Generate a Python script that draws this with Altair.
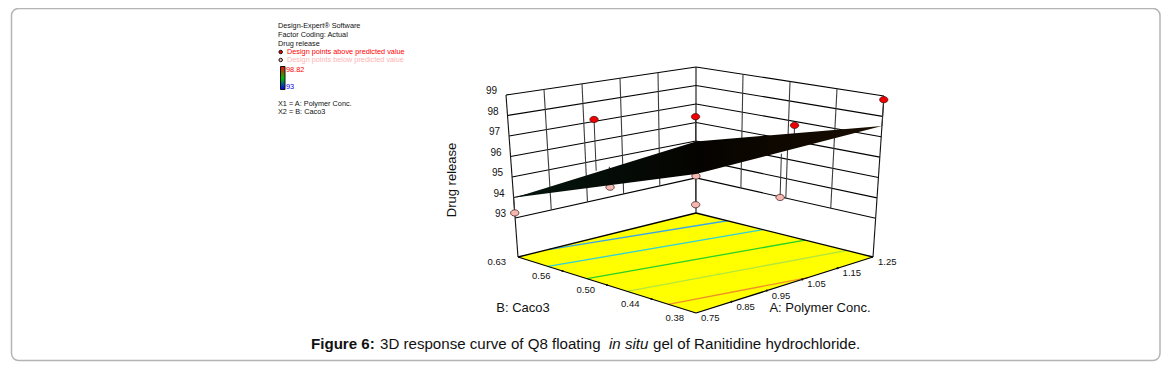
import altair as alt
import pandas as pd

# ---------- values ----------
A_TICKS = [0.75, 0.85, 0.95, 1.05, 1.15, 1.25]
A_LABELS = ["0.75", "0.85", "0.95", "1.05", "1.15", "1.25"]
B_TICKS = [0.625, 0.5625, 0.5, 0.4375, 0.375]
B_LABELS = ["0.63", "0.56", "0.50", "0.44", "0.38"]
Z_TICKS = [93, 94, 95, 96, 97, 98, 99]
Z_FLOOR = 91.1

# design points
PT_A = [0.75, 1.0135, 1.25, 1.0, 0.98, 0.9775, 1.0, 1.25, 1.25]
PT_B = [0.625, 0.625, 0.625, 0.5, 0.375, 0.625, 0.5, 0.49175, 0.375]
PT_Z = [93.25, 93.5, 93.1, 93.8, 95.27, 97.1, 98.1, 96.8, 98.82]
PT_PRED = [94.07, 94.55, 94.97, 95.84, 97.3, 94.48, 95.84, 96.33, 97.53]
PT_KIND = ["below"] * 5 + ["above"] * 4

# response surface corners (A, B, Z)
SURF_Z = {"left": 94.0, "back": 94.97, "front": 97.27, "right": 97.53}

# contours on the floor
C_A1 = [0.835, 0.75, 0.75, 0.75, 0.75]
C_B1 = [0.625, 0.583, 0.528, 0.472, 0.414]
C_A2 = [1.25, 1.25, 1.25, 1.25, 1.0665]
C_B2 = [0.581, 0.5305, 0.471, 0.412, 0.375]
C_COL = ["#3aa6e8", "#30d0d8", "#28d028", "#b4e63c", "#f09028"]

# page texts
LEGEND_TXT = ["Design-Expert® Software", "Factor Coding: Actual", "Drug release",
              "Design points above predicted value", "Design points below predicted value",
              "98.82", "93", "X1 = A: Polymer Conc.", "X2 = B: Caco3"]
LEGEND_X = [278, 278, 278, 287, 287, 286, 286, 278, 278]
LEGEND_Y = [26, 35, 43.5, 52, 60, 69.5, 87, 104, 112]
LEGEND_COL = ["#111111"] * 3 + ["#ff0000", "#ffb4b4", "#ff0000", "#0000ff"] + ["#111111"] * 2

CAP_TXT = ["Figure 6:", "3D response curve of Q8 floating", "in situ", "gel of Ranitidine hydrochloride."]
CAP_X = [311, 380, 609, 653]
CAP_WEIGHT = ["bold", "normal", "normal", "normal"]
CAP_STYLE = ["normal", "normal", "italic", "normal"]

# ---------- oblique view of the cube ----------
W, H = 1153, 354


def proj(a, b, z):
    u = (a - 0.75) / 0.5
    v = (0.625 - b) / 0.25
    t = (z - Z_FLOOR) / (99 - Z_FLOOR)
    fx = 518 + 178 * u + 178 * v - 1 * u * v
    fy = 257 - 44 * u + 56 * v - 12 * u * v
    dx = -12 + 12 * u + 12 * v - 1 * u * v
    dy = -162 + 16 * u - 16 * v + 1 * u * v
    return fx + t * dx, fy + t * dy


def seg(a1, b1, z1, a2, b2, z2, i, **kw):
    x1, y1 = proj(a1, b1, z1)
    x2, y2 = proj(a2, b2, z2)
    return dict(x=x1, y=y1, x2=x2, y2=y2, i=i, **kw)


xs = alt.Scale(domain=[8, 8 + W], range=[0, W], nice=False, zero=False)
ys = alt.Scale(domain=[8, 8 + H], range=[0, H], nice=False, zero=False)
X = alt.X("x:Q", scale=xs, axis=None)
Y = alt.Y("y:Q", scale=ys, axis=None)
X2, Y2 = alt.X2("x2"), alt.Y2("y2")


def rules(rows, **mk):
    return alt.Chart(pd.DataFrame(rows)).mark_rule(**mk).encode(x=X, y=Y, x2=X2, y2=Y2)


def texts(rows, **mk):
    return alt.Chart(pd.DataFrame(rows)).mark_text(**mk).encode(x=X, y=Y, text="t:N")


# frame
frame = alt.Chart(pd.DataFrame([dict(x=11.5, x2=1160, y=8.5, y2=360.5)])).mark_rect(
    cornerRadius=7, fill="white", stroke="#b4b4b4", strokeWidth=1.5
).encode(x=X, y=Y, x2=X2, y2=Y2)

# walls
wall = []
for z in Z_TICKS:
    wall.append(seg(0.75, 0.625, z, 1.25, 0.625, z, 0))
    wall.append(seg(1.25, 0.625, z, 1.25, 0.375, z, 0))
vert = []
for a in A_TICKS[1:-1]:
    vert.append(seg(a, 0.625, 93, a, 0.625, 99, 0))
for b in B_TICKS[1:-1]:
    vert.append(seg(1.25, b, 93, 1.25, b, 99, 0))
corner = [seg(0.75, 0.625, Z_FLOOR, 0.75, 0.625, 99, 0),
          seg(1.25, 0.625, Z_FLOOR, 1.25, 0.625, 99, 0),
          seg(1.25, 0.375, Z_FLOOR, 1.25, 0.375, 99, 0)]
wall_l = rules(wall, color="#000000", strokeWidth=1.1)
vert_l = rules(vert, color="#3c3c3c", strokeWidth=1.1)
corner_l = rules(corner, color="#111111", strokeWidth=1.1)

# floor
lx, ly = proj(0.75, 0.625, Z_FLOOR)
bx, by = proj(1.25, 0.625, Z_FLOOR)
fx, fy = proj(0.75, 0.375, Z_FLOOR)
rx, ry = proj(1.25, 0.375, Z_FLOOR)
floor = alt.Chart(pd.DataFrame([
    dict(x=lx, y=ly, y2=ly), dict(x=(bx + fx) / 2, y=by, y2=fy), dict(x=rx, y=ry, y2=ry)
])).mark_area(color="#ffff00", interpolate="linear").encode(x=X, y=Y, y2=Y2)
contours = rules([seg(C_A1[i], C_B1[i], Z_FLOOR, C_A2[i], C_B2[i], Z_FLOOR, i, c=C_COL[i])
                  for i in range(len(C_COL))], strokeWidth=1.3).encode(
    color=alt.Color("c:N", scale=None))
outline = rules([seg(0.75, 0.625, Z_FLOOR, 1.25, 0.625, Z_FLOOR, 0),
                 seg(1.25, 0.625, Z_FLOOR, 1.25, 0.375, Z_FLOOR, 0),
                 seg(0.75, 0.625, Z_FLOOR, 0.75, 0.375, Z_FLOOR, 0),
                 seg(0.75, 0.375, Z_FLOOR, 1.25, 0.375, Z_FLOOR, 0)],
                color="#000000", strokeWidth=1.3)

tk = [dict(zip("xy", proj(a, 0.375, Z_FLOOR))) for a in A_TICKS[1:-1]] + \
     [dict(zip("xy", proj(0.75, b, Z_FLOOR))) for b in B_TICKS[1:-1]]
tick_dots = alt.Chart(pd.DataFrame(tk)).mark_point(
    filled=True, color="#111111", size=5, opacity=1).encode(x=X, y=Y)

# stems and design points
stems = rules([seg(PT_A[i], PT_B[i], PT_Z[i], PT_A[i], PT_B[i], PT_PRED[i], i)
               for i in range(len(PT_Z))], color="#333333", strokeWidth=1)
pts = []
for i in range(len(PT_Z)):
    x, y = proj(PT_A[i], PT_B[i], PT_Z[i])
    pts.append(dict(x=x, y=y, kind=PT_KIND[i]))
ELLIPSE = "M-1,0A1,0.75 0 1,1 1,0A1,0.75 0 1,1 -1,0Z"
points = alt.Chart(pd.DataFrame(pts)).mark_point(
    filled=True, shape=ELLIPSE, size=70, stroke="#3a1010", strokeWidth=0.7, opacity=1
).encode(x=X, y=Y, fill=alt.Fill(
    "kind:N", legend=None,
    scale=alt.Scale(domain=["above", "below"], range=["#f00000", "#f4b8b0"])))

# response surface
sl = proj(0.75, 0.625, SURF_Z["left"])
sb = proj(1.25, 0.625, SURF_Z["back"])
sf = proj(0.75, 0.375, SURF_Z["front"])
sr = proj(1.25, 0.375, SURF_Z["right"])
surface = alt.Chart(pd.DataFrame([
    dict(x=sl[0] + 1.5, y=sl[1], y2=sl[1]),
    dict(x=(sb[0] + sf[0]) / 2, y=sb[1], y2=sf[1]),
    dict(x=sr[0], y=sr[1], y2=sr[1]),
])).mark_area(interpolate="linear", color=alt.Gradient(
    gradient="linear", x1=0, x2=1, y1=0, y2=0,
    stops=[alt.GradientStop(offset=0, color="#04160e"),
           alt.GradientStop(offset=0.5, color="#050300"),
           alt.GradientStop(offset=1, color="#1a0e00")])).encode(x=X, y=Y, y2=Y2)

# tick labels
FONT = "Liberation Sans"
zl = texts([dict(zip("xy", proj(0.75, 0.625, z))) | dict(t=str(z)) for z in Z_TICKS],
           font=FONT, fontSize=10, align="right", baseline="middle", dx=-9, dy=-4, color="#111111")
al = texts([dict(zip("xy", proj(a, 0.375, Z_FLOOR))) | dict(t=l) for a, l in zip(A_TICKS, A_LABELS)],
           font=FONT, fontSize=9.5, align="left", baseline="middle", dx=5, dy=5, color="#111111")
bl = texts([dict(zip("xy", proj(0.75, b, Z_FLOOR))) | dict(t=l) for b, l in zip(B_TICKS, B_LABELS)],
           font=FONT, fontSize=9.5, align="right", baseline="middle", dx=-12, dy=5, color="#111111")

# axis titles
t_a = texts([dict(x=820, y=308, t="A: Polymer Conc.")], font=FONT, fontSize=13, color="#111111", align="center", baseline="middle")
t_b = texts([dict(x=523, y=308, t="B: Caco3")], font=FONT, fontSize=13, color="#111111", align="center", baseline="middle")
t_z = texts([dict(x=452, y=180, t="Drug release")], font=FONT, fontSize=13, angle=270, color="#111111", align="center", baseline="middle")

# legend block
leg = alt.Chart(pd.DataFrame(dict(x=LEGEND_X, y=LEGEND_Y, t=LEGEND_TXT, c=LEGEND_COL))).mark_text(
    font=FONT, fontSize=7.3, align="left", baseline="middle"
).encode(x=X, y=Y, text="t:N", color=alt.Color("c:N", scale=None))
leg_pts = alt.Chart(pd.DataFrame(dict(x=[280.7, 280.7], y=[52, 60], kind=["above", "below"]))).mark_point(
    filled=True, size=12, stroke="#111111", strokeWidth=1, opacity=1
).encode(x=X, y=Y, fill=alt.Fill(
    "kind:N", legend=None,
    scale=alt.Scale(domain=["above", "below"], range=["#f00000", "#f4b8b0"])))
bar = alt.Chart(pd.DataFrame([dict(x=280.5, x2=285, y=66.5, y2=89.5)])).mark_rect(
    stroke="#111111", strokeWidth=1,
    color=alt.Gradient(gradient="linear", x1=0, x2=0, y1=0, y2=1,
                       stops=[alt.GradientStop(offset=0, color="#ff0000"),
                              alt.GradientStop(offset=0.5, color="#00c000"),
                              alt.GradientStop(offset=1, color="#0000ff")])
).encode(x=X, y=Y, x2=X2, y2=Y2)

# caption
caps = []
for i in range(len(CAP_TXT)):
    caps.append(alt.Chart(pd.DataFrame([dict(x=CAP_X[i], y=344, t=CAP_TXT[i])])).mark_text(
        font=FONT, fontSize=15.1, align="left", baseline="middle",
        fontWeight=CAP_WEIGHT[i], fontStyle=CAP_STYLE[i], color="#111111"
    ).encode(x=X, y=Y, text="t:N"))

chart = alt.layer(
    frame, wall_l, vert_l, corner_l, floor, contours, outline, tick_dots,
    stems, points, surface, zl, al, bl, t_a, t_b, t_z, leg, leg_pts, bar, *caps
).resolve_scale(color="independent", fill="independent").properties(
    width=W, height=H, padding=0, autosize=alt.AutoSizeParams(type="none")
).configure_view(stroke=None)

chart.save("out.html", embed_options={"renderer": "svg", "actions": False})
